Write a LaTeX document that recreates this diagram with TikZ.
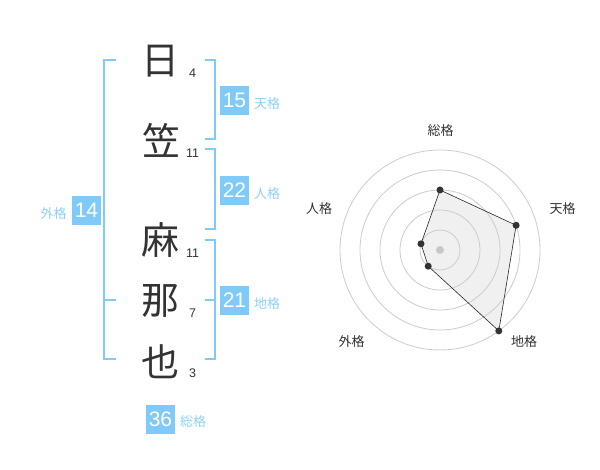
\documentclass[tikz,border=0pt]{standalone}
\usepackage{fontspec}
\setmainfont{Liberation Sans}
\newfontfamily\jpfont{Noto Sans CJK JP}
\definecolor{kakublue}{HTML}{80CAFA}
\definecolor{kakulabel}{HTML}{8FD0F8}
\definecolor{kanjigray}{HTML}{333333}
\tikzset{
	kanji/.style={font=\jpfont\fontsize{38}{38}\selectfont, text=kanjigray, inner sep=0pt},
	strokes/.style={font=\fontsize{12.5}{12.5}\selectfont, text=kanjigray, inner sep=0pt},
	kakubox/.style={fill=kakublue, text=white, minimum size=29pt, inner sep=0pt, font=\fontsize{21}{21}\selectfont},
	kakuname/.style={font=\jpfont\fontsize{13}{13}\selectfont, text=kakulabel, inner sep=0pt},
	bracket/.style={draw=kakublue, line width=2pt},
	radarname/.style={font=\jpfont\fontsize{13}{13}\selectfont, text=kanjigray, inner sep=0pt},
	radardot/.style={fill=kanjigray},
}
\begin{document}
\begin{tikzpicture}[x=1pt,y=-1pt]
				\useasboundingbox[fill=white] (0,0) rectangle (600,470);
				
				\node[kanji] (hi) at (160,61) {日};
				\node[kanji] (kasa) at (161,140) {笠};
				\node[kanji] (asa) at (160,240) {麻};
				\node[kanji] (na) at (160,301) {那};
				\node[kanji] (ya) at (160,362) {也};
				
				\node[strokes] (hin) at (192.5,73) {4};
				\node[strokes] (kasan) at (192.5,153) {11};
				\node[strokes] (asan) at (192.5,253) {11};
				\node[strokes] (nan) at (192.5,313) {7};
				\node[strokes] (yan) at (192.5,373.5) {3};
				
				\draw[bracket] (116,60) -- (104,60) -- (104,359) -- (116,359);
				\draw[bracket] (104,300) -- (116,300);
				\draw[bracket] (205,60) -- (215,60) -- (215,139) -- (205,139);
				\draw[bracket] (205,149) -- (215,149) -- (215,229) -- (205,229);
				\draw[bracket] (205,240) -- (215,240) -- (215,359) -- (205,359);
				\draw[bracket] (205,300) -- (215,300);
				
				\node[kakubox] (tenbox) at (234.5,100.5) {15};
				\node[kakuname, anchor=west] (tenname) at (254,104) {天格};
				\node[kakubox] (jinbox) at (234.5,190.5) {22};
				\node[kakuname, anchor=west] (jinname) at (254,194) {人格};
				\node[kakubox] (chibox) at (234.5,300.5) {21};
				\node[kakuname, anchor=west] (chiname) at (254,304) {地格};
				\node[kakubox] (gaibox) at (86.5,210.5) {14};
				\node[kakuname] (gainame) at (53.5,213.5) {外格};
				\node[kakubox] (soubox) at (160.5,419) {36};
				\node[kakuname, anchor=west] (soupname) at (180,422) {総格};
				
				\coordinate (sou) at (440,190);
				\coordinate (ten) at (516.1,225.3);
				\coordinate (chi) at (498.8,330.9);
				\coordinate (gai) at (428.2,266.2);
				\coordinate (jin) at (421,243.8);
				
				\fill[black!6] (sou) -- (ten) -- (chi) -- (gai) -- (jin) -- cycle;
				
				\draw[black!20, line width=0.8pt] (440,250) circle[radius=20pt];
				\draw[black!20, line width=0.8pt] (440,250) circle[radius=40pt];
				\draw[black!20, line width=0.8pt] (440,250) circle[radius=60pt];
				\draw[black!20, line width=0.8pt] (440,250) circle[radius=80pt];
				\draw[black!20, line width=0.8pt] (440,250) circle[radius=100pt];
				
				\draw[black!85, line width=0.6pt] (sou) -- (ten) -- (chi) -- (gai) -- (jin) -- cycle;
				\fill[black!22] (440,250) circle[radius=4pt];
				\fill[radardot] (sou) circle[radius=3.5pt];
				\fill[radardot] (ten) circle[radius=3.5pt];
				\fill[radardot] (chi) circle[radius=3.5pt];
				\fill[radardot] (gai) circle[radius=3.5pt];
				\fill[radardot] (jin) circle[radius=3.5pt];
				
				\node[radarname] (souname) at (440.7,130.5) {総格};
				\node[radarname] (tenlabel) at (562.7,208.7) {天格};
				\node[radarname] (chilabel) at (524,341.7) {地格};
				\node[radarname] (gailabel) at (351.7,341.7) {外格};
				\node[radarname] (jinlabel) at (319,208.7) {人格};
			\end{tikzpicture}
\end{document}
